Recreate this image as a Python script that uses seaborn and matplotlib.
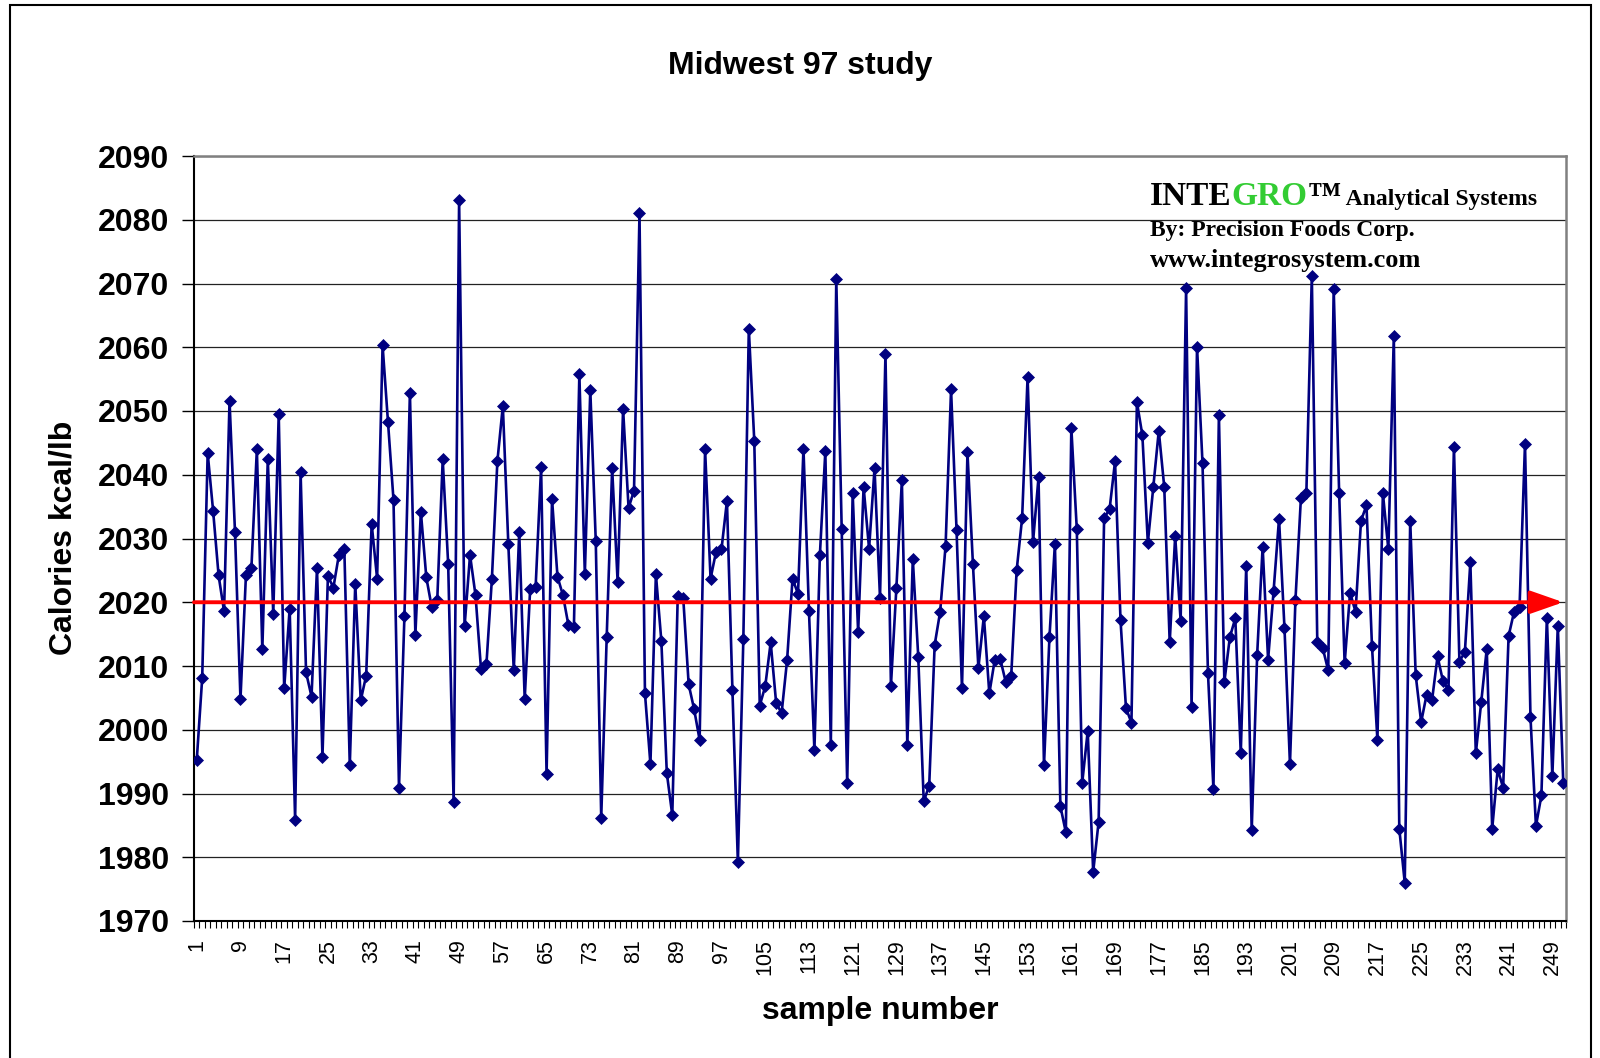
import numpy as np
import matplotlib
matplotlib.use("Agg")
import matplotlib.pyplot as plt
import seaborn as sns
from matplotlib.patches import Rectangle
from matplotlib.offsetbox import TextArea, HPacker, AnchoredOffsetbox

# sample readings (kcal/lb), samples 1..251
calories = [
    1995.2, 2008.1, 2043.4, 2034.3, 2024.2, 2018.6, 2051.6, 2031.0, 2004.8, 2024.2,
    2025.3, 2044.0, 2012.6, 2042.4, 2018.2, 2049.5, 2006.5, 2019.0, 1985.9, 2040.4,
    2009.0, 2005.2, 2025.3, 1995.8, 2024.1, 2022.3, 2027.4, 2028.4, 1994.4, 2022.9,
    2004.6, 2008.5, 2032.3, 2023.7, 2060.3, 2048.2, 2036.0, 1990.9, 2017.9, 2052.9,
    2014.9, 2034.2, 2023.9, 2019.2, 2020.3, 2042.4, 2026.0, 1988.6, 2083.1, 2016.2,
    2027.4, 2021.1, 2009.6, 2010.3, 2023.7, 2042.1, 2050.8, 2029.2, 2009.3, 2031.0,
    2004.8, 2022.1, 2022.4, 2041.2, 1993.0, 2036.2, 2024.0, 2021.1, 2016.4, 2016.1,
    2055.8, 2024.4, 2053.3, 2029.6, 1986.2, 2014.5, 2041.0, 2023.2, 2050.3, 2034.8,
    2037.5, 2081.0, 2005.7, 1994.6, 2024.4, 2013.9, 1993.2, 1986.6, 2021.0, 2020.7,
    2007.1, 2003.2, 1998.4, 2044.0, 2023.7, 2027.9, 2028.3, 2035.9, 2006.3, 1979.2,
    2014.3, 2062.9, 2045.3, 2003.8, 2006.8, 2013.7, 2004.2, 2002.6, 2010.9, 2023.7,
    2021.3, 2044.1, 2018.7, 1996.8, 2027.4, 2043.7, 1997.6, 2070.7, 2031.5, 1991.6,
    2037.1, 2015.3, 2038.1, 2028.4, 2041.0, 2020.7, 2059.0, 2006.9, 2022.3, 2039.1,
    1997.6, 2026.8, 2011.4, 1988.8, 1991.2, 2013.3, 2018.5, 2028.9, 2053.4, 2031.4,
    2006.5, 2043.5, 2026.0, 2009.7, 2017.8, 2005.7, 2011.0, 2011.1, 2007.5, 2008.4,
    2025.0, 2033.2, 2055.3, 2029.5, 2039.6, 1994.4, 2014.5, 2029.2, 1988.0, 1983.9,
    2047.4, 2031.5, 1991.7, 1999.8, 1977.7, 1985.6, 2033.2, 2034.6, 2042.1, 2017.2,
    2003.4, 2001.1, 2051.4, 2046.2, 2029.3, 2038.1, 2046.9, 2038.1, 2013.7, 2030.4,
    2017.1, 2069.3, 2003.6, 2060.1, 2041.8, 2008.9, 1990.7, 2049.4, 2007.5, 2014.5,
    2017.5, 1996.3, 2025.7, 1984.2, 2011.8, 2028.7, 2011.0, 2021.7, 2033.1, 2015.9,
    1994.6, 2020.3, 2036.3, 2037.1, 2071.2, 2013.7, 2012.8, 2009.3, 2069.2, 2037.1,
    2010.4, 2021.5, 2018.5, 2032.8, 2035.2, 2013.2, 1998.4, 2037.1, 2028.3, 2061.8,
    1984.5, 1976.0, 2032.8, 2008.6, 2001.2, 2005.5, 2004.7, 2011.5, 2007.6, 2006.3,
    2044.4, 2010.7, 2012.2, 2026.3, 1996.3, 2004.4, 2012.7, 1984.5, 1993.8, 1990.9,
    2014.7, 2018.5, 2019.2, 2044.9, 2002.0, 1984.9, 1989.7, 2017.6, 1992.7, 2016.3,
    1991.7,
]
sample_no = list(range(1, len(calories) + 1))

# every 8th sample gets a label
xtick_pos = list(range(1, 250, 8))
xtick_labels = [str(v) for v in xtick_pos]
ytick_vals = list(range(1970, 2091, 10))

target_kcal = 2020  # the red reference arrow
navy = "#000080"

sns.set_style("white")
plt.rcParams["font.family"] = ["Liberation Sans", "DejaVu Sans"]
plt.rcParams["text.color"] = "black"
plt.rcParams["xtick.color"] = "black"
plt.rcParams["ytick.color"] = "black"

fig = plt.figure(figsize=(16, 10.58), dpi=100)
ax = fig.add_axes([194 / 1600, 1 - 921 / 1058, 1372 / 1600, 765 / 1058])

sns.lineplot(x=sample_no, y=calories, ax=ax, color=navy, lw=1.9,
             marker="D", markersize=6.4, markerfacecolor=navy,
             markeredgecolor=navy, markeredgewidth=0.5, zorder=3)

ax.set_xlim(0.5, len(calories) + 0.5)
ax.set_ylim(1970, 2090)
ax.set_yticks(ytick_vals)
ax.set_xticks(xtick_pos)
ax.set_xticklabels(xtick_labels, rotation=90)
ax.set_xticks(np.arange(0.5, len(calories) + 1, 1), minor=True)
ax.set_xlabel("")
ax.set_ylabel("")

ax.tick_params(axis="x", which="major", length=0, pad=13, labelsize=15.5)
ax.tick_params(axis="x", which="minor", length=5, width=0.8, color="black", bottom=True)
ax.tick_params(axis="y", length=9, width=1, color="black", pad=9, labelsize=23, left=True)
for lbl in ax.get_yticklabels():
    lbl.set_fontweight("bold")

ax.yaxis.grid(True, color="#222222", lw=0.9)
ax.xaxis.grid(False)
ax.set_axisbelow(True)

for side in ["top", "right"]:
    ax.spines[side].set_color("#808080")
    ax.spines[side].set_linewidth(1.8)
for side in ["left", "bottom"]:
    ax.spines[side].set_color("black")
    ax.spines[side].set_linewidth(1.5)

# red reference arrow at 2020
ax.annotate("", xy=(251.0, target_kcal), xytext=(0.5, target_kcal),
            arrowprops=dict(arrowstyle="-|>,head_length=1.0,head_width=0.35",
                            color="red", lw=2.8, shrinkA=0, shrinkB=0,
                            mutation_scale=20),
            zorder=5)

# titles
fig.text(0.5, 1 - 66 / 1058, "Midwest 97 study", ha="center", va="center",
         fontsize=23, fontweight="bold")
fig.text(63 / 1600, 1 - 538 / 1058, "Calories kcal/lb", rotation=90,
         ha="center", va="center", fontsize=23, fontweight="bold")
fig.text(880 / 1600, 1 - 1011 / 1058, "sample number", ha="center",
         va="center", fontsize=23, fontweight="bold")

# INTEGRO branding box
serif = ["Liberation Serif", "DejaVu Serif"]
big = dict(size=24, weight="bold", family=serif)
parts = [
    TextArea("INTE", textprops=dict(color="black", **big)),
    TextArea("GRO", textprops=dict(color="#33cc33", **big)),
    TextArea("\u2122", textprops=dict(color="black", **big)),
    TextArea(" Analytical Systems", textprops=dict(color="black", size=17,
                                                   weight="bold", family=serif)),
]
row = HPacker(children=parts, align="baseline", pad=0, sep=0)
brand = AnchoredOffsetbox(loc="lower left", child=row, pad=0, borderpad=0,
                          frameon=False,
                          bbox_to_anchor=(1150 / 1600, 1 - 212 / 1058),
                          bbox_transform=fig.transFigure)
brand.set_zorder(6)
fig.add_artist(brand)

fig.text(1150 / 1600, 1 - 236 / 1058, "By: Precision Foods Corp.", ha="left",
         va="baseline", fontsize=17, fontweight="bold", family=serif, zorder=6)
fig.text(1150 / 1600, 1 - 267 / 1058, "www.integrosystem.com", ha="left",
         va="baseline", fontsize=19, fontweight="bold", family=serif, zorder=6)

# outer chart frame
fig.add_artist(Rectangle((10 / 1600, -0.05), 1581 / 1600, 1.05 - 5 / 1058,
                         transform=fig.transFigure, fill=False, lw=1.5,
                         ec="black"))

fig.savefig("out.png", dpi=100)
